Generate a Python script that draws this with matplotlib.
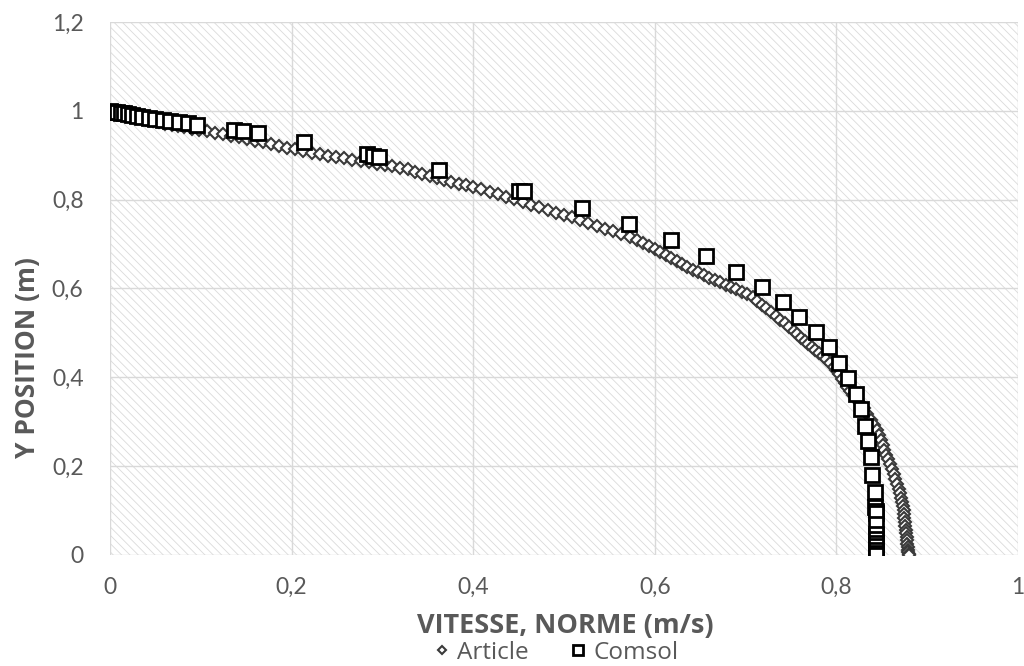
import matplotlib.pyplot as plt
from matplotlib.patches import Rectangle

plt.rcParams['font.family'] = ['Lato', 'DejaVu Sans']
plt.rcParams['hatch.linewidth'] = 0.6

# Article curve (velocity magnitude vs y position)
art_x = [0.000, 0.006, 0.012, 0.019, 0.026, 0.033, 0.040, 0.047, 0.054, 0.061, 0.068, 0.075, 0.082, 0.090, 0.098,
         0.107, 0.116, 0.124, 0.133, 0.142, 0.151, 0.160, 0.168, 0.177, 0.186, 0.195, 0.204, 0.213, 0.222, 0.231,
         0.240, 0.249, 0.258, 0.267, 0.276, 0.285, 0.294, 0.303, 0.311, 0.319,
         0.328, 0.336, 0.344, 0.352, 0.360, 0.368, 0.376, 0.384, 0.392, 0.400, 0.409, 0.418, 0.427, 0.436, 0.445,
         0.455, 0.464, 0.473, 0.482, 0.491, 0.500, 0.509, 0.518, 0.527, 0.536, 0.545, 0.554, 0.563, 0.573,
         0.580, 0.587, 0.594, 0.600, 0.606, 0.612, 0.618, 0.624, 0.630, 0.636, 0.642, 0.648, 0.654, 0.660, 0.666,
         0.672, 0.678, 0.684, 0.690, 0.696, 0.702, 0.708, 0.713, 0.718, 0.723, 0.728, 0.733, 0.738, 0.743, 0.748,
         0.753, 0.757, 0.761,
         0.765, 0.769, 0.773, 0.777, 0.781, 0.785, 0.789, 0.793, 0.797, 0.800, 0.803, 0.806, 0.809, 0.812, 0.815,
         0.818, 0.822, 0.826, 0.830, 0.834, 0.838, 0.842, 0.845,
         0.847, 0.849, 0.851, 0.853, 0.855, 0.857, 0.859, 0.861, 0.863, 0.865, 0.867, 0.869, 0.870, 0.871, 0.872,
         0.873, 0.874, 0.875, 0.875, 0.876, 0.876, 0.877, 0.877, 0.878, 0.878, 0.878, 0.879, 0.879, 0.879, 0.880,
         0.880]
art_y = [1.000, 0.997, 0.994, 0.990, 0.987, 0.983, 0.980, 0.977, 0.974, 0.971, 0.969, 0.966, 0.963, 0.960, 0.957,
         0.954, 0.951, 0.948, 0.944, 0.940, 0.937, 0.933, 0.929, 0.925, 0.921, 0.917, 0.913, 0.909, 0.905, 0.902,
         0.899, 0.896, 0.893, 0.890, 0.887, 0.884, 0.881, 0.878, 0.875, 0.872,
         0.868, 0.863, 0.858, 0.853, 0.849, 0.845, 0.840, 0.836, 0.832, 0.828, 0.823, 0.818, 0.813, 0.807, 0.801,
         0.795, 0.789, 0.783, 0.777, 0.771, 0.766, 0.760, 0.754, 0.748, 0.741, 0.735, 0.729, 0.722, 0.716,
         0.709, 0.702, 0.696, 0.690, 0.682, 0.675, 0.668, 0.661, 0.654, 0.648, 0.642, 0.636, 0.630, 0.624, 0.619,
         0.614, 0.608, 0.603, 0.598, 0.592, 0.587, 0.580, 0.572, 0.563, 0.555, 0.546, 0.538, 0.530, 0.522, 0.514,
         0.505, 0.497, 0.489,
         0.482, 0.476, 0.469, 0.462, 0.455, 0.448, 0.441, 0.433, 0.424, 0.416, 0.407, 0.397, 0.387, 0.378, 0.370,
         0.361, 0.351, 0.342, 0.330, 0.317, 0.304, 0.292, 0.281,
         0.270, 0.259, 0.248, 0.237, 0.226, 0.215, 0.204, 0.193, 0.182, 0.171, 0.160, 0.149, 0.139, 0.129, 0.120,
         0.111, 0.102, 0.093, 0.084, 0.075, 0.066, 0.057, 0.049, 0.041, 0.033, 0.025, 0.018, 0.012, 0.007, 0.003,
         0.000]

# Comsol simulation points
com_x = [0.000, 0.003, 0.008, 0.012, 0.015, 0.020, 0.024, 0.030, 0.035, 0.043, 0.050, 0.058, 0.066, 0.076, 0.086,
         0.096, 0.137, 0.146, 0.163, 0.214, 0.283, 0.290, 0.296, 0.362, 0.451, 0.456, 0.520, 0.572, 0.618, 0.656,
         0.689, 0.718, 0.741, 0.759, 0.778, 0.792, 0.803, 0.813, 0.822, 0.827, 0.832, 0.835, 0.838, 0.839, 0.843,
         0.843, 0.844, 0.844, 0.844, 0.844, 0.844, 0.844, 0.844, 0.844, 0.844, 0.844]
com_y = [1.000, 0.998, 0.997, 0.995, 0.994, 0.993, 0.990, 0.988, 0.986, 0.984, 0.982, 0.979, 0.977, 0.974, 0.973,
         0.969, 0.957, 0.955, 0.950, 0.930, 0.903, 0.898, 0.896, 0.867, 0.820, 0.819, 0.781, 0.745, 0.709, 0.673,
         0.637, 0.603, 0.570, 0.536, 0.502, 0.468, 0.432, 0.398, 0.362, 0.329, 0.290, 0.256, 0.221, 0.180, 0.142,
         0.108, 0.100, 0.094, 0.070, 0.047, 0.036, 0.028, 0.020, 0.012, 0.005, 0.000]

xticks = [0, 0.2, 0.4, 0.6, 0.8, 1.0]
xticklabels = ['0', '0,2', '0,4', '0,6', '0,8', '1']
yticks = [0, 0.2, 0.4, 0.6, 0.8, 1.0, 1.2]
yticklabels = ['0', '0,2', '0,4', '0,6', '0,8', '1', '1,2']

txt = '#595959'
lab_font = ['Open Sans', 'DejaVu Sans']

fig = plt.figure(figsize=(10.24, 6.66), dpi=100)
ax = fig.add_axes([0.1074, 0.1667, 0.8867, 0.8003])

# hatched plot area
ax.add_patch(Rectangle((0, 0), 1, 1, transform=ax.transAxes, facecolor='white',
                       edgecolor='#dadada', hatch='\\\\\\\\', lw=0, zorder=0))

ax.plot(art_x, art_y, ls='none', marker='D', ms=6.3, mfc='white', mec='#3a3a3a', mew=1.5,
        label='Article', zorder=3)
ax.plot(com_x, com_y, ls='none', marker='s', ms=10, mfc='white', mec='black', mew=2,
        label='Comsol', zorder=4)

ax.set_xlim(0, 1)
ax.set_ylim(0, 1.2)
ax.set_xticks(xticks)
ax.set_xticklabels(xticklabels)
ax.set_yticks(yticks)
ax.set_yticklabels(yticklabels)
ax.tick_params(length=0, labelsize=16.5, labelcolor=txt)
ax.tick_params(axis='x', pad=16)
ax.tick_params(axis='y', pad=19)
ax.grid(True, color='#d9d9d9', lw=1)
ax.set_axisbelow(True)
for s in ax.spines.values():
    s.set_visible(False)

ax.set_xlabel('VITESSE, NORME (m/s)', fontsize=19.5, fontweight='bold', color=txt, family=lab_font)
ax.set_ylabel('Y POSITION (m)', fontsize=19, fontweight='bold', color=txt, family=lab_font)
ax.xaxis.set_label_coords(0.501, -0.108)
ax.yaxis.set_label_coords(-0.076, 0.37)

leg = fig.legend(loc='center', bbox_to_anchor=(0.543, 0.02), ncol=2, frameon=False,
                 prop={'family': lab_font, 'size': 17.5}, markerscale=0.65, handletextpad=0.25,
                 columnspacing=1.7, handlelength=0.7, borderpad=0)
for t in leg.get_texts():
    t.set_color(txt)

fig.savefig('out.png', dpi=100)
